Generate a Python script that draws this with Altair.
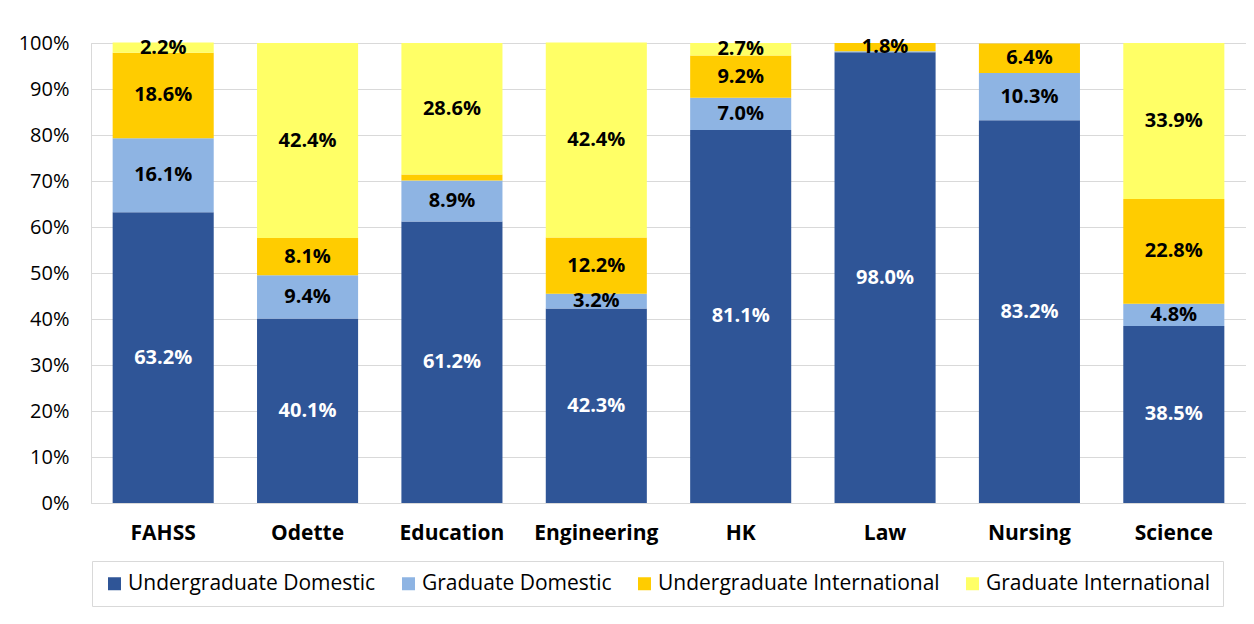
import altair as alt
import pandas as pd

faculties = ["FAHSS", "Odette", "Education", "Engineering", "HK", "Law", "Nursing", "Science"]
series = ["Undergraduate Domestic", "Graduate Domestic", "Undergraduate International", "Graduate International"]
colors = ["#2F5597", "#8EB4E3", "#FFCC00", "#FFFF66"]

ug_domestic = [63.2, 40.1, 61.2, 42.3, 81.1, 98.0, 83.2, 38.5]
gr_domestic = [16.1, 9.4, 8.9, 3.2, 7.0, 0.2, 10.3, 4.8]
ug_international = [18.6, 8.1, 1.3, 12.2, 9.2, 1.8, 6.4, 22.8]
gr_international = [2.2, 42.4, 28.6, 42.4, 2.7, 0.0, 0.0, 33.9]

rows = []
for s_i, (s, vals) in enumerate(zip(series, [ug_domestic, gr_domestic, ug_international, gr_international])):
    for f, v in zip(faculties, vals):
        rows.append({"faculty": f, "series": s, "ord": s_i, "value": v})
df = pd.DataFrame(rows)

FONT = "Open Sans"

base = alt.Chart(df).transform_stack(
    stack="value", groupby=["faculty"], as_=["y0", "y1"],
    sort=[alt.SortField("ord", order="ascending")]
).transform_calculate(
    mid="(datum.y0 + datum.y1) / 2",
    label="format(datum.value, '.1f') + '%'"
)

x_enc = alt.X("faculty:N", sort=faculties, title=None,
              scale=alt.Scale(paddingInner=0.3, paddingOuter=0.15),
              axis=alt.Axis(labelAngle=0, labelFont=FONT, labelFontSize=21,
                            labelFontWeight="bold", labelColor="#000000",
                            labelPadding=19, ticks=False, domainColor="#d9d9d9",
                            domainWidth=1, grid=False))

bars = base.mark_bar().encode(
    x=x_enc,
    y=alt.Y("y0:Q", title=None,
            scale=alt.Scale(domain=[0, 100], nice=False),
            axis=alt.Axis(values=list(range(0, 101, 10)), labelExpr="datum.value + '%'",
                          labelFont=FONT, labelFontSize=20, labelColor="#000000",
                          labelPadding=22, ticks=False, domainColor="#d9d9d9",
                          gridColor="#d9d9d9", gridWidth=1)),
    y2="y1:Q",
    color=alt.Color("series:N", sort=series,
                    scale=alt.Scale(domain=series, range=colors),
                    legend=alt.Legend(title=None, orient="none", legendX=1, legendY=518,
                                      direction="horizontal", columns=4,
                                      symbolType="square", symbolSize=169,
                                      symbolStrokeWidth=0, labelFont=FONT,
                                      labelFontSize=21, labelColor="#000000",
                                      labelOffset=3, columnPadding=22,
                                      labelLimit=400, padding=12,
                                      strokeColor="#d9d9d9", fillColor="#ffffff")),
)

texts = base.transform_filter("datum.value >= 1.5").mark_text(
    font=FONT, fontSize=20, fontWeight="bold", baseline="middle", align="center"
).encode(
    x=alt.X("faculty:N", sort=faculties),
    y=alt.Y("mid:Q"),
    text="label:N",
    color=alt.condition(alt.datum.series == "Undergraduate Domestic",
                        alt.value("#ffffff"), alt.value("#000000")),
)

chart = alt.layer(bars, texts).properties(
    width=1155, height=460,
    autosize=alt.AutoSizeParams(type="none"),
    padding={"left": 83, "top": 35, "right": 0, "bottom": 108},
).configure_view(stroke=None).configure(background="#ffffff")

chart.save("out.html", embed_options={"renderer": "svg", "actions": False})
